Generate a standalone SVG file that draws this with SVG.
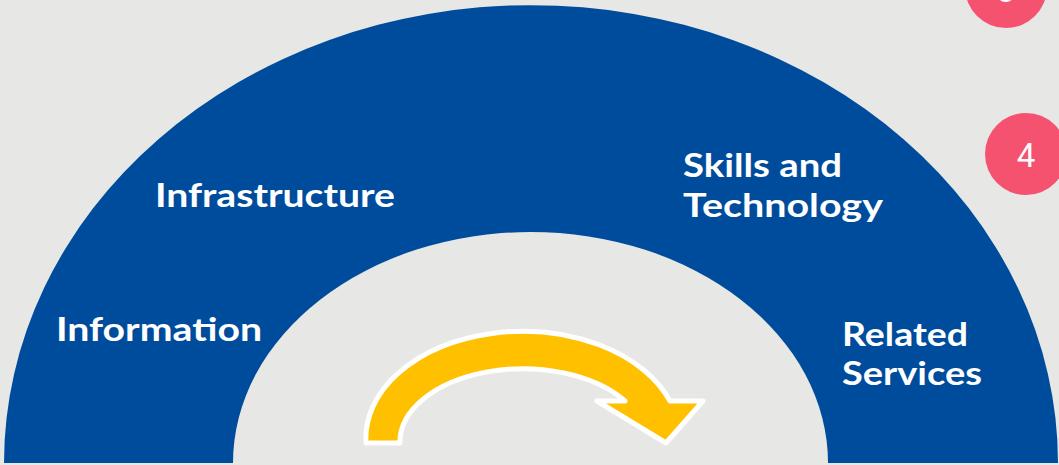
<svg xmlns="http://www.w3.org/2000/svg" width="1059" height="465" viewBox="0 0 1059 465">
<style>
.lbl{font-family:"Lato","Open Sans","Liberation Sans",sans-serif;font-weight:bold;font-size:33px;fill:#ffffff}
.num{font-family:"Roboto","Liberation Sans",sans-serif;font-size:33px;fill:#ffffff;text-anchor:middle}
.badge{fill:#f5526f}
</style>
<rect x="0" y="0" width="1059" height="465" fill="#e7e7e5"/>
<g id="ring">
<path d="M 4 463 A 527 458 0 0 1 1058 463 L 828 463 A 297.5 231 0 0 0 233 463 Z" fill="#004c9c"/>
</g>
<g id="badge3">
<circle class="badge" cx="1006" cy="-13" r="41"/>
<text class="num" x="1006" y="1.5">3</text>
</g>
<g id="badge4">
<circle class="badge" cx="1026" cy="154" r="41"/>
<text class="num" x="1026" y="167">4</text>
</g>
<g id="infrastructure"><text class="lbl" x="155" y="207" textLength="240" lengthAdjust="spacingAndGlyphs">Infrastructure</text></g>
<g id="information"><text class="lbl" x="56" y="341" textLength="206" lengthAdjust="spacingAndGlyphs">Information</text></g>
<g id="skills"><text class="lbl" x="683" y="177" textLength="159" lengthAdjust="spacingAndGlyphs">Skills and</text><text class="lbl" x="683" y="217" textLength="200" lengthAdjust="spacingAndGlyphs">Technology</text></g>
<g id="related"><text class="lbl" x="842" y="346" textLength="126" lengthAdjust="spacingAndGlyphs">Related</text><text class="lbl" x="842" y="385" textLength="140" lengthAdjust="spacingAndGlyphs">Services</text></g>
<g id="connectors">
<path d="M 366 443 A 157 107 0 0 1 670 401 L 703 401 L 666 443 L 597 401 L 625 401 A 123 73 0 0 0 400 443 Z" fill="#ffc000" stroke="#ffffff" stroke-width="5" stroke-linejoin="round"/>
</g>
</svg>
